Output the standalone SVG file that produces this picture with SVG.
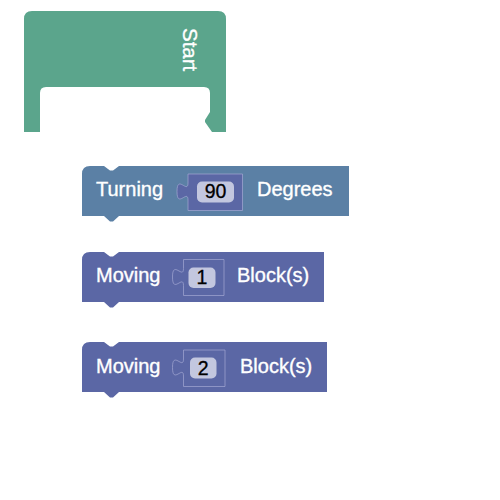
<svg xmlns="http://www.w3.org/2000/svg" width="500" height="500" viewBox="0 0 500 500">
<style>
  .lbl { font-family: "Liberation Sans", Arial, sans-serif; font-size: 20px; fill: #ffffff; stroke: #ffffff; stroke-width: 0.35; }
  .val { font-family: "Liberation Sans", Arial, sans-serif; font-size: 19.5px; fill: #000000; stroke: #000000; stroke-width: 0.3; text-anchor: middle; }
  .start { fill: #5ba58c; }
  .turn { fill: #5b80a5; }
  .move { fill: #5b67a5; }
  .box { fill: #5b67a5; stroke: #a3a8d2; stroke-width: 0.7; }
  .field { fill: #c3c7df; }
</style>
<rect width="500" height="500" fill="#ffffff"/>
<g id="start-block">
  <path class="start" d="M24,132 V19 Q24,11 32,11 H218 Q226,11 226,19 V132 H212 L205,122 V120 L210,112 V93 Q210,87 204,87 H46 Q40,87 40,93 V132 Z"/>
  <text class="lbl" transform="translate(183,28) rotate(90)" style="font-size:20.5px">Start</text>
</g>
<g id="turning-block">
  <path class="turn" d="M82,174 Q82,166 90,166 H104 l6,4.5 3,0 6,-4.5 H349 V216 H119 l-6,5.5 -3,0 -6,-5.5 H82 Z"/>
  <text class="lbl" x="96" y="196">Turning</text>
  <path class="box" d="M188,174 H242.5 V210.5 H188 V200 c0,-11.3 -11,9 -11,-8.5 s11,2.8 11,-8.5 Z"/>
  <rect class="field" x="197" y="181.5" width="37" height="21" rx="5"/>
  <text class="val" x="215.5" y="198">90</text>
  <text class="lbl" x="257" y="196">Degrees</text>
</g>
<g id="moving-block-1">
  <path class="move" d="M82,260 Q82,252 90,252 H104 l6,4.5 3,0 6,-4.5 H324 V302 H119 l-6,5.5 -3,0 -6,-5.5 H82 Z"/>
  <text class="lbl" x="96" y="282">Moving</text>
  <path class="box" d="M183.5,259.5 H224 V295.5 H183.5 V285.5 c0,-11.3 -11,9 -11,-8.5 s11,2.8 11,-8.5 Z"/>
  <rect class="field" x="188.5" y="267.5" width="27" height="20.5" rx="5"/>
  <text class="val" x="202" y="284">1</text>
  <text class="lbl" x="237" y="282">Block(s)</text>
</g>
<g id="moving-block-2">
  <path class="move" d="M82,350 Q82,342 90,342 H104 l6,4.5 3,0 6,-4.5 H327 V392 H119 l-6,5.5 -3,0 -6,-5.5 H82 Z"/>
  <text class="lbl" x="96" y="372.5">Moving</text>
  <path class="box" d="M183.5,350 H225 V386.5 H183.5 V376 c0,-11.3 -11,9 -11,-8.5 s11,2.8 11,-8.5 Z"/>
  <rect class="field" x="190" y="357.5" width="26.5" height="21" rx="5"/>
  <text class="val" x="203.3" y="374.5">2</text>
  <text class="lbl" x="240" y="372.5">Block(s)</text>
</g>
<g id="connectors"></g>
</svg>
